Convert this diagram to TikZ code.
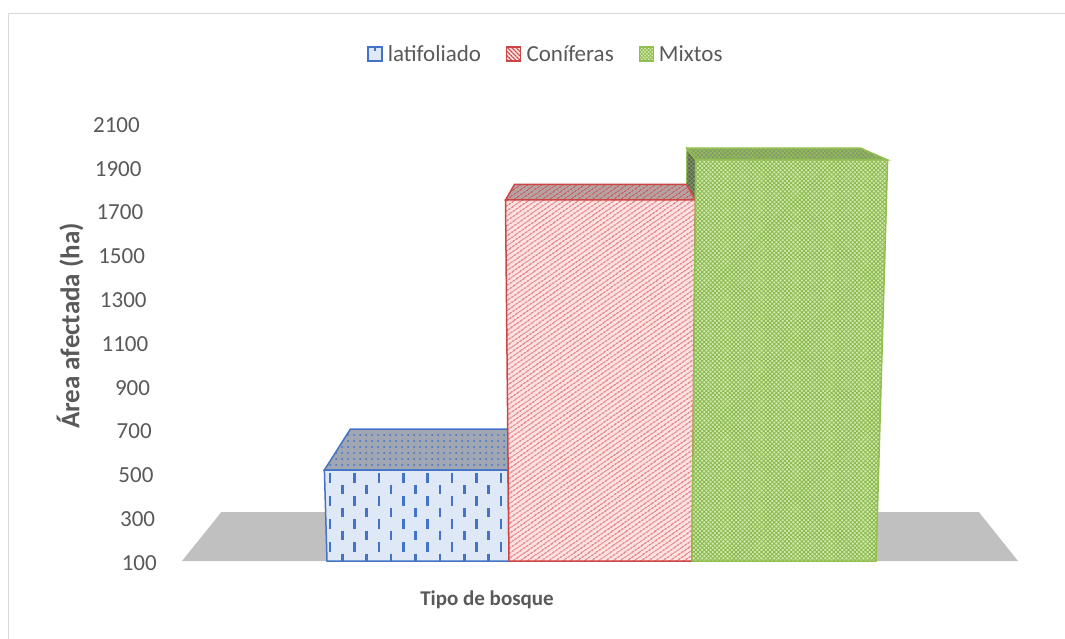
\documentclass[tikz,border=0pt]{standalone}
\usepackage{fontspec}
\setmainfont{Carlito}
\usetikzlibrary{patterns.meta}
\usetikzlibrary{positioning}

\definecolor{txtgray}{RGB}{89,89,89}
\definecolor{blueedge}{RGB}{68,114,196}
\definecolor{bluefill}{RGB}{222,232,246}
\definecolor{bluetop}{RGB}{160,166,178}
\definecolor{rededge}{RGB}{204,68,68}
\definecolor{redline}{RGB}{220,96,96}
\definecolor{redfill}{RGB}{252,226,226}
\definecolor{redtop}{RGB}{178,162,162}
\definecolor{greenedge}{RGB}{146,190,82}
\definecolor{greenline}{RGB}{140,186,78}
\definecolor{greenfill}{RGB}{210,234,178}
\definecolor{greentop}{RGB}{132,150,112}
\definecolor{greenside}{RGB}{88,104,70}
\definecolor{floorgray}{RGB}{192,192,192}
\definecolor{framegray}{RGB}{217,217,217}

\tikzset{
  lbl/.style={font=\fontsize{23}{27}\selectfont, text=txtgray, inner sep=0pt},
  axtitle/.style={font=\fontsize{27}{31}\selectfont\bfseries, text=txtgray, inner sep=0pt},
  keybox/.style={minimum size=14pt, inner sep=0pt, line width=1.2pt},
}

\begin{document}
\begin{tikzpicture}[x=1pt,y=-1pt]
      \useasboundingbox (0,0) rectangle (1065,639);
      \draw[framegray, line width=1.5pt] (8.5,639) -- (8.5,13.5) -- (1065,13.5);

      % suelo
      \fill[floorgray] (182,561) -- (1018,561) -- (978.8,512) -- (221.4,512) -- cycle;

      % latifoliado
      \draw[blueedge, line width=1.5pt, preaction={fill=bluetop},
        pattern={Dots[distance=6pt,radius=1pt]}, pattern color=blueedge]
        (324.4,470) -- (508.1,470) -- (516.8,429) -- (350.4,429) -- cycle;
      \begin{scope}
        \clip (327,561) -- (509,561) -- (508.1,470) -- (324.4,470) -- cycle;
        \fill[bluefill] (320,465) rectangle (512,565);
        \foreach \i in {0,...,14}
          \foreach \j in {0,...,4}
            \draw[blueedge, line width=2.6pt] ({330+\i*12.2},{473+mod(\i,2)*11.5+\j*23}) -- ++(0,9.5);
      \end{scope}
      \draw[blueedge, line width=1.5pt] (327,561) -- (509,561) -- (508.1,470) -- (324.4,470) -- cycle;

      % lado de mixtos
      \draw[greenedge, line width=1.2pt, preaction={fill=greenside},
        pattern={Hatch[angle=45,distance=3pt,line width=0.7pt]}, pattern color=greentop]
        (695.8,160) -- (686.9,148.2) -- (686.5,184.4) -- (695.4,200) -- cycle;

      % coniferas
      \draw[rededge, line width=1.5pt, preaction={fill=redtop},
        pattern={Lines[angle=35,distance=4pt,line width=1.2pt]}, pattern color=rededge]
        (505.5,200) -- (695.4,200) -- (686.5,184.4) -- (514.5,184.4) -- cycle;
      \draw[rededge, line width=1.5pt, preaction={fill=redfill},
        pattern={Lines[angle=35,distance=4pt,line width=1.3pt]}, pattern color=redline]
        (509,561) -- (692,561) -- (695.4,200) -- (505.5,200) -- cycle;

      % mixtos
      \draw[greenedge, line width=1.5pt, preaction={fill=greentop},
        pattern={Hatch[angle=45,distance=3pt,line width=0.8pt]}, pattern color=greenedge]
        (695.8,160) -- (887.6,160) -- (860.7,148.2) -- (686.9,148.2) -- cycle;
      \draw[greenedge, line width=1.5pt, preaction={fill=greenfill},
        pattern={Hatch[angle=45,distance=3pt,line width=0.9pt]}, pattern color=greenline]
        (692,561) -- (876,561) -- (887.6,160) -- (695.8,160) -- cycle;

      % eje vertical
      \foreach \v in {100,300,...,2100}
        \node[lbl, anchor=east] (t\v) at ({157-(\v-100)*0.0085},{563-(\v-100)*0.219}) {\v};
      \node[axtitle, rotate=90] (ytit) at (70,326) {Área afectada (ha)};
      \node[axtitle, font=\fontsize{21}{25}\selectfont\bfseries] (xtit) at (487,600) {Tipo de bosque};

      % leyenda
      \node[keybox, draw=blueedge, fill=bluefill] (klat) at (375,54) {};
      \draw[blueedge, line width=1.5pt] (klat.north) -- ++(0,5);
      \node[lbl, anchor=west, right=5pt of klat] (llat) {latifoliado};
      \node[keybox, draw=rededge, right=25pt of llat, preaction={fill=redfill},
        pattern={Lines[angle=-45,distance=3pt,line width=1pt]}, pattern color=rededge] (kcon) {};
      \node[lbl, anchor=west, right=5pt of kcon] (lcon) {Coníferas};
      \node[keybox, draw=greenedge, right=25pt of lcon, preaction={fill=greenfill},
        pattern={Hatch[angle=45,distance=2.5pt,line width=0.8pt]}, pattern color=greenedge] (kmix) {};
      \node[lbl, anchor=west, right=5pt of kmix] (lmix) {Mixtos};
    \end{tikzpicture}
\end{document}
